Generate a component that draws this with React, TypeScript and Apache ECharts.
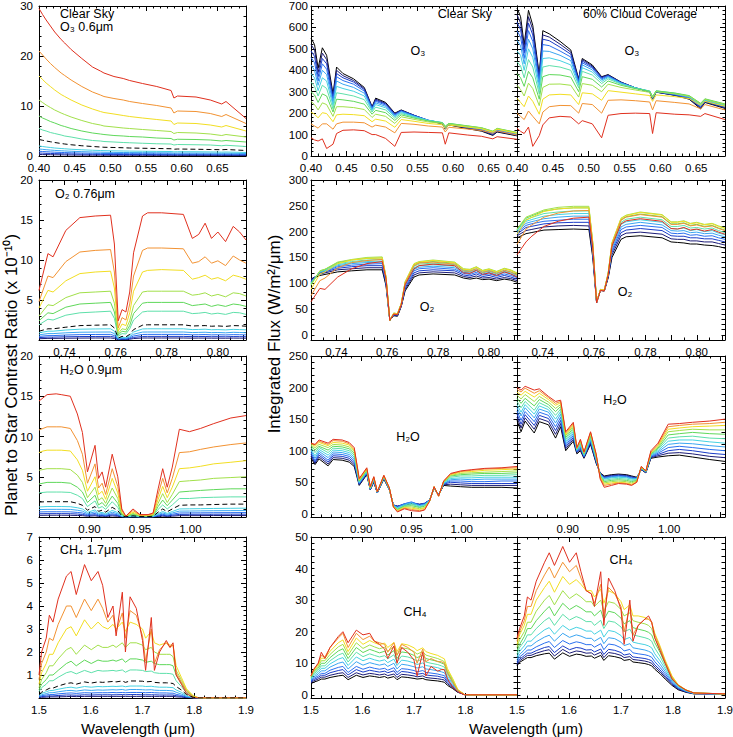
import React, { useEffect, useRef } from "react";
import * as echarts from "echarts";

const FONT = '"Liberation Sans", Arial, Helvetica, sans-serif';

// colours from black (index 0) to red (index 11)
const COLORS = ["#000000", "#1c1c78", "#1a3cc8", "#2a70f0", "#3aa6f2", "#46d2e2", "#5ee0aa", "#5fd85a", "#a2e04a", "#f2de22", "#f29232", "#e0301e"];

// ---------- wavelength grids (micron) ----------
const WL_O3 = [0.400, 0.405, 0.410, 0.416, 0.422, 0.431, 0.436, 0.445, 0.460, 0.475, 0.486, 0.491, 0.505, 0.518, 0.527, 0.545, 0.565, 0.585, 0.589, 0.594, 0.620, 0.640, 0.656, 0.662, 0.690];
const WL_O2 = [0.730, 0.7335, 0.7355, 0.7405, 0.746, 0.752, 0.758, 0.7595, 0.761, 0.7625, 0.764, 0.7655, 0.767, 0.7705, 0.7725, 0.778, 0.7865, 0.790, 0.7925, 0.795, 0.7975, 0.800, 0.803, 0.806, 0.8085, 0.811];
const WL_H2O = [0.850, 0.854, 0.858, 0.867, 0.872, 0.881, 0.888, 0.893, 0.898, 0.9055, 0.909, 0.9125, 0.916, 0.9225, 0.928, 0.932, 0.936, 0.943, 0.950, 0.958, 0.963, 0.968, 0.9725, 0.977, 0.982, 0.989, 0.999, 1.010, 1.023, 1.040, 1.055];
const WL_CH4 = [1.500, 1.505, 1.514, 1.520, 1.527, 1.537, 1.553, 1.562, 1.572, 1.588, 1.601, 1.614, 1.623, 1.633, 1.643, 1.649, 1.661, 1.667, 1.676, 1.688, 1.700, 1.706, 1.717, 1.723, 1.733, 1.746, 1.753, 1.759, 1.765, 1.775, 1.785, 1.798, 1.810, 1.825, 1.840, 1.900];

// ---------- O3 ----------
// contrast ratio lines, navy (1) .. red (11)
const CONTRAST_O3 = [
  [0.3, 0.29, 0.27, 0.26, 0.24, 0.23, 0.22, 0.2, 0.19, 0.17, 0.17, 0.16, 0.16, 0.15, 0.15, 0.15, 0.14, 0.14, 0.13, 0.13, 0.13, 0.13, 0.12, 0.12, 0.11],
  [0.6, 0.57, 0.54, 0.51, 0.48, 0.45, 0.43, 0.41, 0.37, 0.35, 0.33, 0.32, 0.31, 0.3, 0.3, 0.29, 0.28, 0.27, 0.25, 0.26, 0.26, 0.25, 0.23, 0.24, 0.21],
  [0.95, 0.9, 0.86, 0.81, 0.76, 0.71, 0.69, 0.64, 0.59, 0.55, 0.52, 0.51, 0.49, 0.48, 0.47, 0.46, 0.44, 0.43, 0.4, 0.41, 0.41, 0.4, 0.37, 0.38, 0.34],
  [1.4, 1.33, 1.26, 1.19, 1.12, 1.05, 1.01, 0.95, 0.87, 0.8, 0.77, 0.75, 0.72, 0.7, 0.69, 0.67, 0.65, 0.63, 0.58, 0.6, 0.6, 0.58, 0.54, 0.56, 0.5],
  [2, 1.9, 1.8, 1.7, 1.6, 1.5, 1.45, 1.35, 1.25, 1.15, 1.1, 1.07, 1.03, 1, 0.98, 0.95, 0.92, 0.9, 0.83, 0.86, 0.85, 0.82, 0.77, 0.8, 0.7],
  [5.5, 5.2, 5, 4.7, 4.5, 4.2, 4, 3.8, 3.4, 3.1, 3, 2.9, 2.8, 2.7, 2.65, 2.55, 2.45, 2.4, 2.2, 2.3, 2.25, 2.2, 2.05, 2.15, 1.9],
  [8, 7.6, 7.3, 6.9, 6.6, 6.1, 5.9, 5.5, 5, 4.6, 4.4, 4.3, 4.1, 4, 3.9, 3.8, 3.6, 3.5, 3.2, 3.35, 3.3, 3.2, 3, 3.1, 2.8],
  [11.2, 10.7, 10.2, 9.7, 9.2, 8.6, 8.3, 7.8, 7.1, 6.5, 6.2, 6, 5.8, 5.6, 5.5, 5.3, 5.1, 4.9, 4.5, 4.7, 4.6, 4.4, 4.1, 4.3, 3.8],
  [16, 15.3, 14.6, 13.9, 13.2, 12.3, 11.9, 11.2, 10.2, 9.4, 8.9, 8.7, 8.4, 8.1, 7.9, 7.6, 7.3, 7, 6.3, 6.6, 6.5, 6.2, 5.8, 6.1, 5],
  [21, 20.2, 19.4, 18.5, 17.7, 16.6, 16.1, 15.2, 13.9, 12.8, 12.2, 11.9, 11.5, 11.2, 10.9, 10.5, 10.1, 9.6, 8.6, 9, 8.9, 8.5, 7.9, 8.3, 6.5],
  [29.5, 28.3, 27.2, 26, 24.8, 23.3, 22.6, 21.3, 19.5, 17.8, 17, 16.6, 15.9, 15.5, 15.1, 14.5, 13.9, 13.1, 11.6, 12, 11.8, 11.2, 10.4, 10.9, 7.5],
];
const DASHED_O3 = [3.3, 3.15, 3, 2.85, 2.7, 2.5, 2.4, 2.25, 2.05, 1.9, 1.8, 1.75, 1.7, 1.65, 1.6, 1.55, 1.5, 1.45, 1.35, 1.4, 1.35, 1.3, 1.25, 1.3, 1.1];
// flux lines, black (0) .. red (11)
const CLEAR_O3 = [
  [550, 520, 410, 505, 470, 290, 415, 385, 360, 320, 230, 270, 250, 200, 215, 190, 165, 150, 125, 145, 128, 116, 96, 112, 94],
  [520, 495, 390, 480, 450, 280, 400, 375, 352, 315, 228, 265, 246, 198, 213, 190, 166, 151, 127, 146, 130, 118, 99, 114, 96],
  [490, 465, 370, 455, 430, 270, 385, 365, 345, 310, 225, 260, 243, 195, 212, 190, 167, 153, 130, 148, 132, 121, 102, 117, 98],
  [460, 435, 350, 430, 405, 260, 370, 352, 335, 303, 222, 255, 238, 192, 210, 188, 167, 154, 132, 149, 134, 124, 105, 120, 101],
  [425, 400, 330, 400, 380, 248, 350, 335, 320, 293, 218, 248, 232, 188, 207, 186, 167, 155, 134, 150, 136, 127, 108, 122, 103],
  [385, 365, 305, 365, 350, 235, 325, 315, 302, 280, 212, 240, 225, 183, 203, 184, 166, 156, 136, 151, 138, 129, 111, 125, 106],
  [345, 325, 280, 330, 315, 220, 295, 290, 280, 263, 205, 228, 215, 176, 198, 181, 165, 156, 138, 152, 140, 131, 114, 127, 108],
  [300, 285, 250, 290, 280, 205, 265, 262, 255, 242, 195, 213, 202, 166, 192, 177, 163, 155, 139, 152, 141, 132, 116, 129, 110],
  [255, 240, 215, 248, 240, 185, 230, 230, 226, 217, 180, 195, 185, 152, 183, 171, 159, 152, 136, 149, 139, 131, 115, 128, 109],
  [205, 195, 178, 202, 198, 160, 192, 195, 193, 188, 160, 172, 163, 134, 170, 162, 152, 146, 128, 144, 135, 127, 112, 125, 106],
  [150, 140, 130, 150, 150, 125, 150, 158, 158, 155, 135, 144, 135, 108, 152, 148, 140, 135, 112, 134, 126, 119, 106, 117, 98],
  [85, 75, 70, 80, 35, 55, 105, 120, 122, 118, 100, 100, 82, 45, 110, 112, 110, 108, 55, 108, 98, 92, 80, 90, 78],
];
const CLOUD_O3 = [
  [690, 650, 520, 680, 610, 380, 585, 570, 535, 495, 360, 455, 425, 370, 380, 345, 318, 300, 265, 298, 283, 265, 220, 250, 222],
  [660, 620, 500, 650, 590, 370, 565, 555, 522, 485, 355, 450, 420, 368, 378, 344, 318, 300, 267, 298, 284, 267, 225, 252, 225],
  [625, 590, 480, 620, 565, 360, 545, 538, 508, 475, 350, 443, 415, 365, 376, 343, 318, 300, 268, 299, 285, 269, 228, 254, 228],
  [585, 555, 455, 585, 535, 345, 520, 515, 490, 462, 345, 435, 410, 360, 373, 342, 318, 301, 270, 300, 287, 272, 232, 257, 231],
  [540, 515, 430, 545, 500, 330, 490, 488, 470, 445, 338, 425, 402, 355, 370, 340, 318, 302, 272, 301, 289, 275, 236, 260, 234],
  [490, 470, 400, 500, 460, 310, 455, 458, 445, 425, 330, 412, 392, 348, 366, 338, 318, 303, 274, 303, 291, 278, 240, 263, 237],
  [440, 420, 365, 450, 415, 290, 415, 422, 415, 400, 318, 395, 378, 338, 360, 335, 317, 303, 276, 304, 293, 280, 243, 265, 240],
  [385, 365, 325, 395, 365, 265, 370, 380, 378, 368, 300, 370, 358, 322, 350, 330, 314, 302, 277, 304, 294, 282, 246, 267, 243],
  [330, 310, 280, 340, 315, 235, 320, 335, 336, 330, 275, 338, 330, 300, 335, 320, 308, 297, 272, 300, 290, 279, 244, 264, 240],
  [270, 250, 230, 280, 255, 195, 265, 285, 288, 285, 240, 295, 290, 260, 305, 298, 290, 282, 255, 285, 277, 268, 236, 255, 232],
  [200, 185, 170, 210, 185, 150, 205, 230, 236, 235, 200, 245, 240, 200, 260, 262, 258, 252, 215, 258, 250, 243, 220, 240, 215],
  [130, 115, 105, 135, 45, 95, 145, 178, 185, 182, 150, 165, 150, 85, 190, 198, 200, 198, 105, 202, 195, 192, 185, 198, 170],
];

// ---------- O2 ----------
const CONTRAST_O2 = [
  [0.16, 0.2, 0.2, 0.22, 0.24, 0.25, 0.25, 0.2, 0.04, 0.07, 0.06, 0.1, 0.18, 0.25, 0.25, 0.25, 0.25, 0.23, 0.24, 0.24, 0.23, 0.23, 0.22, 0.24, 0.23, 0.23],
  [0.3, 0.36, 0.36, 0.4, 0.43, 0.44, 0.45, 0.36, 0.07, 0.12, 0.1, 0.18, 0.32, 0.44, 0.45, 0.45, 0.45, 0.42, 0.43, 0.44, 0.41, 0.42, 0.4, 0.43, 0.42, 0.41],
  [0.45, 0.55, 0.55, 0.62, 0.67, 0.69, 0.7, 0.55, 0.1, 0.18, 0.15, 0.28, 0.5, 0.69, 0.7, 0.7, 0.7, 0.65, 0.66, 0.68, 0.64, 0.66, 0.63, 0.67, 0.66, 0.64],
  [0.65, 0.8, 0.8, 0.9, 0.97, 0.99, 1.0, 0.8, 0.15, 0.25, 0.22, 0.4, 0.72, 0.99, 1.0, 1.0, 1.0, 0.93, 0.95, 0.97, 0.92, 0.94, 0.9, 0.96, 0.94, 0.91],
  [0.9, 1.1, 1.1, 1.25, 1.35, 1.38, 1.4, 1.1, 0.2, 0.35, 0.3, 0.55, 1.0, 1.38, 1.4, 1.4, 1.4, 1.3, 1.32, 1.35, 1.28, 1.3, 1.26, 1.33, 1.3, 1.27],
  [1.9, 2.6, 2.5, 3.1, 3.4, 3.5, 3.6, 2.7, 0.45, 0.8, 0.75, 1.4, 2.5, 3.5, 3.6, 3.6, 3.6, 3.3, 3.35, 3.45, 3.25, 3.35, 3.2, 3.45, 3.4, 3.2],
  [2.4, 3.4, 3.3, 4.1, 4.5, 4.6, 4.7, 3.5, 0.6, 1.1, 1.0, 1.8, 3.3, 4.6, 4.7, 4.7, 4.7, 4.3, 4.4, 4.5, 4.2, 4.4, 4.2, 4.5, 4.4, 4.2],
  [3, 4.4, 4.3, 5.3, 5.9, 6.0, 6.1, 4.6, 0.8, 1.4, 1.3, 2.4, 4.3, 6.0, 6.1, 6.1, 6.1, 5.6, 5.7, 5.9, 5.5, 5.7, 5.4, 5.9, 5.8, 5.5],
  [4, 6.2, 6.0, 7.4, 8.3, 8.5, 8.6, 6.5, 1.1, 2, 1.8, 3.4, 6.1, 8.5, 8.7, 8.8, 8.7, 7.6, 7.8, 8.1, 7.6, 7.8, 7.4, 8.1, 7.9, 7.6],
  [4.8, 8, 7.8, 9.8, 11, 11.2, 11.3, 8.5, 1.5, 2.8, 2.5, 4.5, 8, 11.2, 11.5, 11.5, 11.4, 9.6, 9.8, 10.4, 9.6, 9.9, 9.3, 10.5, 10, 9.6],
  [6.2, 10.8, 10.4, 13.7, 15.3, 15.5, 15.6, 12, 2.4, 3.8, 3.5, 6, 10.9, 15.5, 15.9, 15.9, 15.7, 12.7, 13.2, 14.6, 12.7, 13.5, 12.3, 14.2, 13.5, 12.5],
];
const DASHED_O2 = [1.1, 1.4, 1.4, 1.6, 1.8, 1.85, 1.9, 1.5, 0.25, 0.45, 0.4, 0.7, 1.3, 1.85, 1.9, 1.9, 1.9, 1.75, 1.78, 1.8, 1.72, 1.76, 1.7, 1.8, 1.78, 1.72];
const CLEAR_O2 = [
  [108, 115, 117, 122, 124, 126, 126, 95, 28, 37, 36, 55, 85, 112, 116, 118, 116, 110, 108, 110, 107, 108, 105, 108, 106, 102],
  [108, 118, 120, 126, 128, 130, 130, 98, 28, 38, 37, 56, 88, 116, 120, 122, 120, 113, 111, 114, 110, 111, 108, 111, 109, 105],
  [105, 120, 122, 129, 132, 134, 134, 101, 28, 39, 38, 57, 91, 120, 124, 126, 124, 116, 114, 118, 113, 115, 111, 115, 112, 108],
  [103, 121, 123, 132, 135, 137, 138, 104, 28, 40, 39, 58, 94, 124, 128, 130, 127, 119, 117, 121, 116, 118, 114, 118, 115, 111],
  [101, 122, 124, 134, 138, 140, 141, 106, 28, 40, 39, 59, 96, 127, 131, 133, 130, 121, 120, 124, 118, 121, 116, 121, 118, 113],
  [100, 123, 125, 136, 140, 142, 143, 108, 28, 41, 40, 60, 98, 130, 134, 136, 133, 123, 122, 126, 120, 123, 118, 123, 120, 115],
  [99, 123, 126, 138, 142, 145, 146, 110, 28, 41, 40, 60, 100, 133, 137, 139, 136, 125, 124, 128, 122, 125, 120, 125, 122, 117],
  [98, 124, 127, 140, 145, 148, 149, 112, 28, 42, 41, 61, 102, 136, 140, 142, 139, 127, 126, 131, 124, 127, 122, 128, 125, 119],
  [96, 124, 127, 141, 146, 150, 151, 113, 28, 42, 41, 61, 103, 138, 142, 145, 141, 128, 127, 132, 125, 128, 123, 129, 126, 120],
  [88, 118, 122, 138, 145, 148, 149, 112, 28, 42, 41, 61, 102, 137, 141, 144, 140, 127, 126, 131, 124, 127, 122, 128, 125, 119],
  [76, 105, 110, 130, 140, 144, 146, 110, 28, 41, 40, 60, 100, 134, 139, 141, 137, 124, 123, 128, 121, 124, 119, 125, 122, 116],
  [64, 90, 88, 112, 128, 138, 142, 108, 28, 40, 39, 58, 97, 128, 134, 137, 134, 120, 119, 125, 117, 120, 115, 122, 118, 112],
];
const CLOUD_O2 = [
  [188, 196, 198, 203, 204, 205, 204, 150, 62, 86, 85, 110, 150, 185, 190, 192, 188, 180, 179, 178, 176, 176, 174, 173, 171, 168],
  [192, 202, 204, 209, 211, 212, 211, 155, 62, 86, 85, 112, 155, 192, 197, 199, 195, 186, 185, 185, 182, 182, 180, 180, 177, 174],
  [195, 208, 210, 215, 217, 218, 218, 160, 63, 87, 86, 114, 160, 198, 203, 206, 202, 192, 191, 191, 188, 188, 186, 186, 183, 180],
  [198, 212, 215, 220, 222, 224, 224, 164, 63, 87, 86, 115, 164, 204, 209, 212, 208, 197, 196, 197, 193, 194, 191, 192, 188, 185],
  [200, 216, 219, 225, 228, 230, 230, 168, 63, 87, 86, 116, 168, 209, 214, 218, 213, 202, 201, 202, 198, 199, 196, 197, 193, 190],
  [202, 220, 223, 230, 233, 235, 235, 171, 63, 87, 86, 117, 171, 214, 219, 223, 218, 206, 205, 207, 202, 204, 200, 202, 197, 194],
  [203, 223, 227, 235, 238, 240, 240, 174, 64, 88, 87, 118, 174, 218, 224, 228, 223, 210, 210, 212, 207, 208, 205, 207, 202, 198],
  [204, 226, 230, 240, 244, 246, 246, 178, 64, 88, 87, 119, 177, 223, 229, 234, 229, 215, 215, 217, 212, 214, 210, 212, 207, 203],
  [205, 228, 232, 242, 247, 249, 249, 180, 64, 88, 87, 120, 179, 226, 232, 238, 233, 219, 219, 221, 216, 218, 214, 216, 211, 207],
  [195, 222, 227, 239, 244, 246, 246, 178, 64, 88, 87, 119, 178, 225, 231, 237, 232, 218, 218, 220, 215, 217, 213, 215, 210, 206],
  [175, 205, 212, 228, 236, 240, 241, 175, 63, 87, 86, 118, 176, 222, 228, 233, 228, 214, 214, 216, 211, 213, 209, 211, 206, 202],
  [155, 180, 190, 210, 220, 226, 228, 168, 62, 86, 85, 116, 172, 215, 221, 225, 220, 206, 205, 208, 203, 205, 201, 204, 199, 195],
];

// ---------- H2O ----------
const CONTRAST_H2O = [
  [0.21, 0.21, 0.22, 0.22, 0.22, 0.21, 0.19, 0.17, 0.1, 0.15, 0.08, 0.1, 0.07, 0.14, 0.09, 0.02, 0, 0.02, 0.01, 0.01, 0.01, 0.07, 0.11, 0.07, 0.11, 0.17, 0.17, 0.17, 0.18, 0.18, 0.18],
  [0.41, 0.41, 0.42, 0.42, 0.42, 0.41, 0.37, 0.32, 0.19, 0.28, 0.16, 0.19, 0.13, 0.27, 0.18, 0.03, 0.01, 0.03, 0.01, 0.01, 0.02, 0.13, 0.22, 0.14, 0.22, 0.32, 0.33, 0.34, 0.34, 0.35, 0.35],
  [0.63, 0.64, 0.65, 0.65, 0.65, 0.64, 0.57, 0.5, 0.29, 0.44, 0.24, 0.29, 0.2, 0.41, 0.27, 0.05, 0.01, 0.05, 0.02, 0.02, 0.03, 0.2, 0.34, 0.22, 0.34, 0.5, 0.51, 0.52, 0.53, 0.54, 0.55],
  [0.92, 0.93, 0.95, 0.95, 0.95, 0.94, 0.84, 0.73, 0.42, 0.64, 0.35, 0.42, 0.3, 0.6, 0.4, 0.08, 0.02, 0.08, 0.03, 0.03, 0.05, 0.3, 0.5, 0.33, 0.5, 0.73, 0.74, 0.76, 0.78, 0.79, 0.8],
  [1.25, 1.27, 1.3, 1.3, 1.3, 1.28, 1.15, 1, 0.58, 0.88, 0.48, 0.58, 0.4, 0.82, 0.55, 0.1, 0.02, 0.1, 0.03, 0.03, 0.07, 0.42, 0.68, 0.45, 0.68, 1, 1.02, 1.04, 1.06, 1.08, 1.1],
  [3, 3.05, 3.1, 3.1, 3.1, 3.05, 2.7, 2.3, 1.3, 2, 1.1, 1.3, 0.95, 1.9, 1.2, 0.25, 0.05, 0.25, 0.08, 0.08, 0.15, 0.95, 1.5, 1, 1.5, 2.3, 2.3, 2.4, 2.45, 2.5, 2.5],
  [4.1, 4.2, 4.3, 4.3, 4.3, 4.2, 3.7, 3.1, 1.8, 2.7, 1.5, 1.8, 1.3, 2.6, 1.7, 0.35, 0.06, 0.35, 0.1, 0.1, 0.2, 1.3, 2.1, 1.4, 2.1, 3.1, 3.2, 3.3, 3.4, 3.5, 3.5],
  [5.8, 5.9, 6, 6, 6, 5.9, 5.2, 4.3, 2.4, 3.7, 2.1, 2.4, 1.7, 3.6, 2.3, 0.45, 0.08, 0.45, 0.15, 0.15, 0.25, 1.7, 2.9, 1.8, 2.8, 4.4, 4.5, 4.6, 4.8, 4.9, 5],
  [8, 8.2, 8.3, 8.3, 8.3, 8.2, 7.1, 5.8, 3.2, 5, 2.8, 3.2, 2.2, 4.8, 3, 0.6, 0.1, 0.6, 0.2, 0.2, 0.3, 2.2, 3.8, 2.4, 3.7, 6, 6.1, 6.3, 6.6, 6.8, 7],
  [10.8, 11, 11.2, 11.2, 11.2, 11, 9.5, 7.8, 4.2, 6.6, 3.6, 4.2, 2.8, 6, 3.8, 0.8, 0.1, 0.8, 0.25, 0.25, 0.4, 2.8, 4.8, 3, 4.8, 8, 8.1, 8.4, 8.7, 9, 9.2],
  [14.4, 14.8, 15.2, 15.3, 15.2, 15, 12.8, 10.5, 5.6, 8.9, 4.8, 5.6, 3.7, 7.8, 5, 1, 0.1, 1, 0.3, 0.3, 0.5, 3.5, 6, 3.7, 6.2, 10.9, 10.6, 11, 11.6, 12.3, 12.6],
];
const DASHED_H2O = [1.85, 1.88, 1.9, 1.9, 1.9, 1.9, 1.7, 1.45, 0.85, 1.3, 0.7, 0.85, 0.6, 1.2, 0.8, 0.15, 0.03, 0.15, 0.05, 0.05, 0.1, 0.6, 1, 0.65, 1, 1.45, 1.5, 1.5, 1.55, 1.6, 1.6];
const CLEAR_H2O = [
  [88, 78, 87, 76, 86, 85, 82, 75, 45, 62, 38, 50, 33, 55, 38, 14, 12, 14, 16, 15, 16, 22, 40, 30, 45, 44, 43, 42, 42, 42, 41],
  [91, 80, 90, 79, 89, 88, 85, 78, 46, 63, 38, 51, 33, 56, 38, 14, 12, 15, 17, 15, 16, 22, 40, 30, 46, 47, 46, 45, 45, 45, 45],
  [94, 82, 93, 82, 92, 91, 88, 81, 47, 64, 39, 52, 33, 57, 39, 14, 12, 16, 18, 15, 17, 22, 41, 30, 47, 50, 49, 48, 48, 48, 48],
  [97, 84, 96, 85, 95, 94, 91, 84, 48, 65, 39, 53, 34, 57, 39, 14, 11, 16, 19, 14, 16, 22, 41, 30, 48, 52, 52, 51, 51, 52, 52],
  [100, 88, 99, 89, 98, 97, 94, 87, 49, 66, 40, 54, 34, 58, 39, 13, 10, 15, 18, 13, 15, 21, 41, 29, 48, 54, 55, 54, 55, 55, 55],
  [102, 92, 102, 93, 101, 100, 97, 90, 50, 67, 40, 55, 34, 58, 40, 13, 9, 14, 17, 12, 14, 21, 42, 29, 49, 56, 57, 57, 58, 58, 58],
  [105, 97, 105, 97, 104, 103, 100, 93, 51, 68, 41, 56, 35, 59, 40, 12, 8, 13, 15, 11, 13, 20, 42, 29, 50, 58, 60, 60, 61, 61, 62],
  [107, 101, 107, 101, 107, 106, 103, 96, 52, 69, 41, 57, 35, 59, 40, 12, 7, 12, 13, 10, 12, 20, 42, 29, 50, 60, 62, 63, 64, 64, 65],
  [109, 104, 110, 105, 110, 109, 106, 99, 53, 70, 42, 57, 35, 60, 40, 12, 6, 11, 11, 8, 10, 20, 43, 28, 51, 61, 64, 65, 66, 67, 68],
  [111, 107, 113, 108, 113, 112, 109, 101, 54, 71, 42, 58, 35, 60, 41, 11, 5, 10, 9, 7, 9, 20, 43, 28, 51, 62, 66, 67, 69, 70, 71],
  [112, 109, 115, 110, 116, 115, 111, 103, 55, 72, 43, 58, 35, 61, 41, 11, 4, 9, 7, 5, 7, 20, 43, 28, 52, 63, 67, 69, 71, 72, 73],
  [112, 110, 117, 112, 118, 117, 113, 105, 56, 73, 43, 59, 35, 61, 41, 11, 3, 8, 5, 4, 6, 20, 43, 28, 52, 64, 68, 70, 72, 73, 75],
];
const CLOUD_H2O = [
  [148, 130, 147, 128, 146, 141, 120, 138, 100, 115, 95, 100, 88, 110, 80, 65, 60, 62, 63, 62, 60, 58, 70, 65, 88, 90, 92, 93, 90, 86, 83],
  [153, 136, 152, 134, 151, 146, 126, 143, 103, 118, 97, 102, 89, 112, 81, 64, 59, 61, 62, 61, 59, 57, 70, 65, 89, 92, 96, 97, 95, 91, 89],
  [158, 142, 157, 140, 156, 151, 132, 148, 106, 121, 98, 104, 90, 114, 83, 64, 58, 60, 61, 60, 58, 57, 71, 66, 90, 94, 100, 102, 100, 96, 94],
  [163, 148, 162, 146, 161, 156, 138, 153, 109, 124, 99, 106, 91, 116, 84, 63, 57, 59, 60, 59, 57, 56, 71, 66, 91, 96, 105, 107, 105, 102, 100],
  [168, 155, 168, 152, 166, 161, 144, 158, 112, 127, 100, 108, 92, 118, 86, 62, 56, 58, 59, 58, 56, 56, 72, 67, 92, 98, 110, 112, 111, 108, 106],
  [173, 161, 173, 158, 171, 165, 150, 162, 115, 130, 101, 110, 93, 120, 87, 62, 55, 57, 58, 57, 55, 55, 72, 67, 93, 100, 115, 117, 117, 114, 112],
  [178, 168, 178, 164, 176, 169, 156, 166, 118, 133, 102, 112, 94, 122, 89, 61, 53, 55, 56, 55, 53, 54, 73, 67, 94, 102, 120, 122, 123, 120, 119],
  [183, 175, 183, 171, 181, 173, 162, 170, 121, 136, 103, 114, 95, 124, 90, 60, 51, 53, 54, 53, 51, 53, 73, 67, 95, 104, 125, 127, 129, 127, 126],
  [188, 182, 189, 178, 186, 177, 167, 173, 124, 139, 104, 115, 96, 126, 92, 59, 49, 51, 52, 51, 49, 52, 74, 68, 96, 106, 130, 132, 134, 133, 133],
  [193, 188, 194, 185, 191, 181, 172, 176, 126, 141, 104, 116, 97, 128, 93, 58, 47, 49, 50, 49, 47, 51, 74, 68, 97, 108, 134, 136, 138, 139, 140],
  [197, 193, 199, 191, 195, 184, 175, 178, 128, 143, 105, 117, 97, 129, 94, 57, 45, 47, 49, 48, 46, 50, 75, 68, 98, 110, 138, 140, 142, 143, 145],
  [200, 196, 202, 196, 198, 186, 178, 180, 130, 145, 105, 118, 98, 130, 95, 55, 42, 45, 48, 47, 45, 50, 75, 68, 100, 112, 142, 143, 145, 147, 150],
];

// ---------- CH4 ----------
const CONTRAST_CH4 = [
  [0.02, 0.03, 0.04, 0.05, 0.05, 0.05, 0.06, 0.07, 0.06, 0.07, 0.07, 0.07, 0.07, 0.07, 0.07, 0.07, 0.07, 0.07, 0.07, 0.07, 0.07, 0.07, 0.07, 0.07, 0.07, 0.07, 0.07, 0.07, 0.05, 0.04, 0.02, 0, 0, 0, 0, 0],
  [0.04, 0.06, 0.08, 0.09, 0.09, 0.11, 0.13, 0.13, 0.12, 0.14, 0.13, 0.14, 0.14, 0.14, 0.14, 0.14, 0.15, 0.14, 0.15, 0.15, 0.14, 0.14, 0.14, 0.14, 0.13, 0.13, 0.13, 0.13, 0.1, 0.07, 0.03, 0.01, 0, 0, 0, 0],
  [0.06, 0.1, 0.13, 0.15, 0.15, 0.18, 0.21, 0.22, 0.2, 0.23, 0.22, 0.23, 0.23, 0.23, 0.24, 0.23, 0.24, 0.23, 0.24, 0.24, 0.24, 0.23, 0.24, 0.23, 0.22, 0.22, 0.21, 0.21, 0.16, 0.11, 0.05, 0.01, 0, 0, 0, 0],
  [0.09, 0.14, 0.19, 0.23, 0.23, 0.27, 0.32, 0.33, 0.3, 0.35, 0.33, 0.35, 0.34, 0.35, 0.36, 0.35, 0.37, 0.34, 0.37, 0.37, 0.36, 0.35, 0.36, 0.34, 0.33, 0.33, 0.32, 0.31, 0.25, 0.17, 0.07, 0.01, 0, 0, 0, 0],
  [0.12, 0.2, 0.27, 0.32, 0.33, 0.38, 0.45, 0.47, 0.43, 0.5, 0.47, 0.5, 0.49, 0.5, 0.51, 0.5, 0.52, 0.49, 0.52, 0.52, 0.52, 0.5, 0.51, 0.49, 0.47, 0.47, 0.46, 0.45, 0.35, 0.25, 0.1, 0.02, 0, 0, 0, 0],
  [0.28, 0.45, 0.6, 0.75, 0.75, 0.9, 1.1, 1.15, 1.05, 1.2, 1.1, 1.2, 1.17, 1.18, 1.2, 1.17, 1.22, 1.12, 1.22, 1.22, 1.2, 1.15, 1.17, 1.1, 1.07, 1.07, 1.06, 1.03, 0.75, 0.5, 0.22, 0.05, 0, 0, 0, 0],
  [0.35, 0.6, 0.8, 1.0, 1.0, 1.2, 1.5, 1.6, 1.4, 1.65, 1.5, 1.65, 1.6, 1.6, 1.65, 1.6, 1.7, 1.55, 1.7, 1.7, 1.65, 1.55, 1.6, 1.5, 1.45, 1.45, 1.45, 1.4, 1.0, 0.65, 0.3, 0.06, 0, 0, 0, 0],
  [0.45, 0.8, 1.1, 1.4, 1.4, 1.7, 2.1, 2.2, 1.9, 2.3, 2.1, 2.3, 2.2, 2.2, 2.3, 2.2, 2.4, 2.2, 2.4, 2.4, 2.3, 2.1, 2.2, 2.0, 1.9, 1.9, 1.9, 1.8, 1.2, 0.8, 0.35, 0.08, 0, 0, 0, 0],
  [0.6, 1.1, 1.5, 1.9, 1.9, 2.4, 3.0, 3.1, 2.7, 3.4, 3.0, 3.3, 3.1, 3.0, 3.2, 3.0, 3.3, 2.9, 3.3, 3.2, 3.0, 2.6, 2.9, 2.4, 2.3, 2.4, 2.3, 2.3, 1.4, 0.9, 0.4, 0.1, 0, 0, 0, 0],
  [0.8, 1.5, 2.0, 2.6, 2.5, 3.2, 4.0, 4.0, 3.5, 4.3, 3.8, 4.3, 3.9, 3.3, 3.6, 2.9, 3.7, 2.6, 3.8, 3.6, 2.7, 1.6, 3.0, 1.5, 2.1, 2.4, 2.2, 2.3, 1.1, 0.7, 0.3, 0.05, 0, 0, 0, 0],
  [1.0, 2.0, 2.6, 3.6, 3.3, 4.3, 5.3, 5.5, 4.5, 5.8, 5.1, 5.5, 4.9, 3.5, 4.0, 2.7, 4.6, 2.0, 4.4, 3.9, 2.5, 1.2, 3.5, 1.2, 2.0, 2.5, 2.2, 2.4, 1.0, 0.6, 0.2, 0, 0, 0, 0, 0],
];
const DASHED_CH4 = [0.15, 0.25, 0.35, 0.42, 0.43, 0.52, 0.63, 0.66, 0.6, 0.7, 0.65, 0.7, 0.68, 0.7, 0.72, 0.7, 0.74, 0.68, 0.74, 0.74, 0.73, 0.7, 0.72, 0.68, 0.66, 0.66, 0.65, 0.63, 0.5, 0.35, 0.15, 0.03, 0, 0, 0, 0];
const CLEAR_CH4 = [
  [3.5, 4, 4.5, 5, 5, 5.5, 6, 6.2, 4.8, 6.2, 5.5, 6, 5.8, 5.5, 5.8, 5.3, 5.8, 4.8, 5.7, 5.5, 5.2, 5, 5.2, 4.8, 4.6, 4.4, 4.2, 4, 3, 2, 0.8, 0.1, 0, 0, 0, 0],
  [3.8, 4.4, 5, 5.6, 5.6, 6.2, 6.8, 7, 5.5, 7, 6.3, 6.8, 6.6, 6.3, 6.6, 6.1, 6.6, 5.5, 6.5, 6.3, 6, 5.7, 6, 5.5, 5.3, 5.1, 4.9, 4.7, 3.5, 2.3, 0.9, 0.1, 0, 0, 0, 0],
  [4.1, 4.8, 5.5, 6.2, 6.2, 7, 7.7, 8, 6.3, 8, 7.2, 7.8, 7.5, 7.2, 7.5, 7, 7.6, 6.3, 7.4, 7.2, 6.8, 6.5, 6.8, 6.3, 6.1, 5.9, 5.6, 5.4, 4, 2.6, 1, 0.1, 0, 0, 0, 0],
  [4.4, 5.2, 6, 6.8, 6.8, 7.8, 8.7, 9, 7.1, 9, 8.1, 8.8, 8.4, 8.1, 8.4, 7.8, 8.6, 7.1, 8.3, 8.1, 7.7, 7.3, 7.7, 7.1, 6.9, 6.6, 6.3, 6.1, 4.5, 2.9, 1.1, 0.1, 0, 0, 0, 0],
  [4.7, 5.6, 6.6, 7.6, 7.6, 8.8, 10, 10.4, 8.2, 10.5, 9.4, 10.2, 9.8, 9.4, 9.8, 9, 10, 8.2, 9.7, 9.4, 8.9, 8.5, 8.9, 8.2, 8, 7.6, 7.3, 7, 5.2, 3.3, 1.2, 0.1, 0, 0, 0, 0],
  [5, 6.1, 7.2, 8.4, 8.4, 9.8, 11.3, 11.8, 9.3, 12, 10.8, 11.6, 11.1, 10.7, 11.1, 10.2, 11.3, 9.3, 11, 10.7, 10.1, 9.6, 10.1, 9.3, 9, 8.6, 8.2, 7.9, 5.8, 3.7, 1.3, 0.1, 0, 0, 0, 0],
  [5.3, 6.6, 7.8, 9.2, 9.2, 10.8, 12.6, 13.2, 10.4, 13.5, 12.1, 13, 12.5, 12, 12.4, 11.4, 12.7, 10.4, 12.3, 12, 11.3, 10.7, 11.3, 10.4, 10, 9.6, 9.2, 8.8, 6.5, 4.1, 1.4, 0.1, 0, 0, 0, 0],
  [5.6, 7, 8.4, 10, 10, 11.8, 13.9, 14.6, 11.5, 15, 13.4, 14.4, 13.9, 13.3, 13.8, 12.6, 14, 11.5, 13.6, 13.3, 12.5, 11.8, 12.5, 11.5, 11.1, 10.6, 10.1, 9.7, 7.1, 4.5, 1.5, 0.1, 0, 0, 0, 0],
  [5.9, 7.4, 9, 10.8, 10.8, 12.8, 15.2, 16, 12.6, 16.5, 14.7, 15.8, 15.2, 14.6, 15.1, 13.8, 15.3, 12.6, 14.9, 14.6, 13.7, 12.9, 13.7, 12.6, 12.1, 11.5, 11, 10.5, 7.7, 4.9, 1.6, 0.1, 0, 0, 0, 0],
  [6, 7.7, 9.5, 11.6, 11.6, 13.8, 16.5, 17.4, 13.7, 18, 16, 17.2, 16.5, 15.9, 16.4, 15, 16.6, 13.7, 16.2, 15.8, 14.9, 14, 14.9, 13.7, 13.1, 12.5, 11.9, 11.4, 8.3, 5.2, 1.7, 0.1, 0, 0, 0, 0],
  [6, 8, 10, 12.5, 12, 15, 18, 19.5, 15, 19.5, 17.5, 18.6, 17, 16.5, 16, 13.5, 16.5, 12.5, 16, 15, 13.5, 10, 14.5, 10.5, 11.5, 10.5, 10.5, 10, 7, 4, 1.4, 0.1, 0, 0, 0, 0],
  [6, 8, 10, 13.5, 11.5, 15, 18.5, 20, 16.5, 20.5, 19, 19.5, 17, 16, 14.5, 11.5, 15.5, 10, 15, 13.5, 11, 6, 13.5, 6, 9, 7.5, 8, 8, 5, 2.5, 1, 0, 0, 0, 0, 0],
];
const CLOUD_CH4 = [
  [9.2, 10.3, 11.2, 11.8, 11.8, 12.4, 13, 13.2, 11.3, 13.3, 12.2, 12.9, 12.7, 12.2, 12.3, 11.6, 12.5, 10.9, 12.4, 12.1, 11.6, 10.9, 11.2, 10.4, 10.2, 9.9, 9.6, 9.2, 8.1, 6.7, 5, 3, 1.6, 0.8, 0.3, 0.3],
  [9.6, 10.8, 11.8, 12.5, 12.5, 13.2, 14, 14.3, 12.3, 14.4, 13.2, 13.9, 13.7, 13.2, 13.3, 12.6, 13.5, 11.8, 13.4, 13.1, 12.5, 11.8, 12.1, 11.2, 11, 10.7, 10.4, 10, 8.8, 7.3, 5.5, 3.3, 1.8, 0.9, 0.4, 0.3],
  [10, 11.3, 12.4, 13.2, 13.2, 14, 15, 15.3, 13.4, 15.5, 14.3, 15, 14.8, 14.2, 14.3, 13.6, 14.5, 12.8, 14.4, 14.1, 13.4, 12.6, 13, 12, 11.8, 11.5, 11.2, 10.8, 9.5, 7.9, 6, 3.6, 2, 1, 0.4, 0.3],
  [10.5, 12, 13.2, 14.2, 14.2, 15.2, 16.4, 16.9, 15, 17.2, 16.1, 16.8, 16.5, 15.9, 15.9, 15.1, 16.2, 14.3, 16.1, 15.8, 14.9, 13.9, 14.4, 13.3, 13, 12.7, 12.4, 11.9, 10.5, 8.7, 6.7, 3.9, 2.2, 1.1, 0.4, 0.3],
  [11.2, 12.8, 14.2, 15.5, 15.5, 16.8, 18.3, 18.9, 17, 19.5, 18.2, 19, 18.6, 17.9, 17.9, 17, 18.2, 16.2, 18.1, 17.8, 16.7, 15.6, 16.2, 14.9, 14.6, 14.2, 13.8, 13.3, 11.7, 9.7, 7.4, 4.3, 2.4, 1.2, 0.5, 0.3],
  [12, 13.8, 15.5, 17, 17, 18.6, 20.6, 21.3, 19.2, 22, 20.5, 21.4, 21, 20.2, 20.2, 19.2, 20.5, 18.3, 20.4, 20, 18.8, 17.5, 18.2, 16.7, 16.3, 15.9, 15.5, 14.9, 13, 10.8, 8.2, 4.7, 2.6, 1.3, 0.5, 0.3],
  [13, 15, 17, 19, 19, 21, 23.5, 24.5, 22, 25.5, 23.7, 24.8, 24.2, 23.2, 23.2, 22, 23.6, 21, 23.4, 23, 21.5, 20, 20.8, 19, 18.6, 18.1, 17.7, 17, 14.8, 12.2, 9, 5.1, 2.8, 1.4, 0.5, 0.3],
  [14, 16, 18.5, 21, 21, 23.5, 26.5, 28, 25, 29, 27, 28.3, 27.5, 26.3, 26.3, 25, 26.8, 23.8, 26.5, 26, 24.3, 22.5, 23.5, 21.3, 20.8, 20.3, 19.8, 19, 16.5, 13.5, 9.8, 5.5, 3, 1.5, 0.6, 0.3],
  [15, 17.5, 20, 23, 23, 26.5, 30, 31.5, 28.5, 33, 30.5, 32, 31, 29.5, 29.5, 28, 30, 26.5, 29.5, 29, 27, 25, 26, 23.5, 23, 22.5, 22, 21, 18, 14.5, 10.5, 5.8, 3.1, 1.5, 0.6, 0.3],
  [16, 19, 22, 25.5, 25.5, 30, 34, 36, 32.5, 37.5, 35, 36.5, 35, 33, 33, 31, 33.5, 29, 33, 32, 29.5, 27, 28.5, 25, 25, 24.5, 24, 23, 19.5, 15.5, 11, 6, 3.2, 1.6, 0.6, 0.3],
  [17, 20, 23.5, 28, 28, 33, 38, 40.5, 37, 42, 39, 41, 37, 33, 32, 29, 35, 25, 34, 32, 28, 20, 28, 19, 22, 24, 24, 23, 19, 15, 10.5, 5.5, 3, 1.5, 0.6, 0.3],
  [18, 21, 25, 31, 30, 36, 42, 45, 41, 47, 42, 45, 39, 33, 32, 28, 39, 22, 37, 33, 27, 16, 30, 17, 22, 24, 25, 23, 18, 14, 10, 5, 3, 1.5, 0.6, 0.3],
];

// ---------- axes ----------
const X_O3_TICKS = [0.4, 0.45, 0.5, 0.55, 0.6, 0.65];
const X_O2_TICKS = [0.74, 0.76, 0.78, 0.8];
const X_H2O_TICKS = [0.9, 0.95, 1.0];
const X_CH4_TICKS = [1.5, 1.6, 1.7, 1.8, 1.9];
const X_CH4_TICKS_MID = [1.5, 1.6, 1.7, 1.8];

const X_SPECS = [
  { min: 0.4, max: 0.69, interval: 0.05, minor: 5, dec: 2, labels: [X_O3_TICKS, X_O3_TICKS, X_O3_TICKS] },
  { min: 0.73, max: 0.811, interval: 0.01, minor: 2, dec: 2, labels: [X_O2_TICKS, X_O2_TICKS, X_O2_TICKS] },
  { min: 0.85, max: 1.055, interval: 0.05, minor: 5, dec: 2, labels: [X_H2O_TICKS, X_H2O_TICKS, X_H2O_TICKS] },
  { min: 1.5, max: 1.9, interval: 0.1, minor: 5, dec: 1, labels: [X_CH4_TICKS, X_CH4_TICKS_MID, X_CH4_TICKS] },
];

const seq = (a: number, b: number, s: number) => {
  const out: number[] = [];
  for (let v = a; v <= b + 1e-9; v += s) out.push(Math.round(v * 1000) / 1000);
  return out;
};

const Y_CONTRAST = [
  { min: 0, max: 30, interval: 10, minor: 5, labels: [0, 10, 20, 30] },
  { min: 0, max: 20, interval: 5, minor: 5, labels: [5, 10, 15, 20] },
  { min: 0, max: 20, interval: 5, minor: 5, labels: [5, 10, 15, 20] },
  { min: 0, max: 7, interval: 1, minor: 5, labels: [1, 2, 3, 4, 5, 6, 7] },
];
const Y_FLUX: any[] = [
  { min: 0, max: 700, interval: 100, minor: 5, labels: seq(0, 700, 100) },
  { min: -10, max: 300, ticks: seq(0, 300, 10), labels: seq(0, 300, 50) },
  { min: -5, max: 250, ticks: seq(0, 250, 10), labels: seq(0, 250, 50) },
  { min: -1, max: 50, ticks: seq(0, 50, 2), labels: seq(0, 50, 10) },
];

const COLS = [
  { left: 39, width: 207 },
  { left: 311, width: 206 },
  { left: 517, width: 208 },
];
const ROWS = [
  { top: 6, height: 150 },
  { top: 180, height: 160 },
  { top: 356, height: 161 },
  { top: 537, height: 161 },
];

const DATA_ROWS = [
  { wl: WL_O3, contrast: CONTRAST_O3, dashed: DASHED_O3, clear: CLEAR_O3, cloud: CLOUD_O3 },
  { wl: WL_O2, contrast: CONTRAST_O2, dashed: DASHED_O2, clear: CLEAR_O2, cloud: CLOUD_O2 },
  { wl: WL_H2O, contrast: CONTRAST_H2O, dashed: DASHED_H2O, clear: CLEAR_H2O, cloud: CLOUD_H2O },
  { wl: WL_CH4, contrast: CONTRAST_CH4, dashed: DASHED_CH4, clear: CLEAR_CH4, cloud: CLOUD_CH4 },
];

const near = (list: number[], v: number) => list.some((l) => Math.abs(l - v) < 1e-6);

function makeAxis(spec: any, gridIndex: number, position: string, labels: number[] | null, dec: number | null, margin: number) {
  const ax: any = {
    type: "value",
    gridIndex,
    position,
    min: spec.min,
    max: spec.max,
    splitLine: { show: false },
    axisLine: { show: true, onZero: false, lineStyle: { color: "#000", width: 1 } },
    axisTick: { show: true, inside: true, length: 5, lineStyle: { color: "#000", width: 1 } },
    minorTick: { show: true, splitNumber: spec.minor || 5, length: 2.5, lineStyle: { color: "#000", width: 1 } },
    axisLabel: labels
      ? {
          show: true,
          showMinLabel: true,
          showMaxLabel: true,
          margin,
          fontSize: 11.5,
          lineHeight: 12,
          fontFamily: FONT,
          color: "#000",
          formatter: (v: number) => (near(labels, v) ? (dec != null ? v.toFixed(dec) : String(Math.round(v))) : ""),
        }
      : { show: false },
  };
  if (spec.ticks) {
    ax.axisTick.customValues = spec.ticks;
    ax.axisTick.length = 3.5;
    ax.minorTick.show = false;
    if (labels) ax.axisLabel.customValues = labels;
  } else {
    ax.interval = spec.interval;
  }
  return ax;
}

function buildOption() {
  const grid: any[] = [];
  const xAxis: any[] = [];
  const yAxis: any[] = [];
  const series: any[] = [];
  for (let r = 0; r < 4; r++) {
    const d = DATA_ROWS[r];
    for (let c = 0; c < 3; c++) {
      const g = r * 3 + c;
      grid.push({ left: COLS[c].left, top: ROWS[r].top, width: COLS[c].width, height: ROWS[r].height, containLabel: false, outerBoundsMode: "none" });
      const xs = X_SPECS[r];
      xAxis.push(makeAxis(xs, g, "bottom", xs.labels[c], xs.dec, 6));
      xAxis.push(makeAxis(xs, g, "top", null, null, 0));
      const ys = c === 0 ? Y_CONTRAST[r] : Y_FLUX[r];
      yAxis.push(makeAxis(ys, g, "left", c === 1 || c === 0 ? ys.labels : null, null, c === 0 ? 6 : 3));
      yAxis.push(makeAxis(ys, g, "right", null, null, 0));
      const axisIdx = g * 2;
      const addLine = (vals: number[], color: string, dashed: boolean) => {
        series.push({
          type: "line",
          xAxisIndex: axisIdx,
          yAxisIndex: axisIdx,
          data: d.wl.map((x, i) => [x, vals[i]]),
          showSymbol: false,
          symbol: "none",
          silent: true,
          clip: true,
          lineStyle: { width: 1, color, type: dashed ? [5, 3] : "solid" },
          itemStyle: { color },
        });
      };
      if (c === 0) {
        d.contrast.forEach((vals, i) => addLine(vals, COLORS[i + 1], false));
        addLine(d.dashed, "#000", true);
      } else {
        const set = c === 1 ? d.clear : d.cloud;
        set.forEach((vals, i) => addLine(vals, COLORS[i], false));
      }
    }
  }

  const t = (x: number, y: number, text: string, align: string, size = 12.5) => ({
    type: "text",
    x,
    y,
    silent: true,
    style: { text, fill: "#000", font: `${size}px ${FONT}`, textAlign: align, textVerticalAlign: "middle", align, verticalAlign: "middle" },
  });
  const vt = (x: number, y: number, text: string, size: number) => ({
    type: "text",
    x,
    y,
    rotation: Math.PI / 2,
    silent: true,
    style: { text, fill: "#000", font: `${size}px ${FONT}`, textAlign: "center", textVerticalAlign: "middle", align: "center", verticalAlign: "middle" },
  });

  const graphic = [
    t(60, 14, "Clear Sky", "left", 12.5),
    t(60, 27, "O\u2083 0.6\u03bcm", "left", 12.5),
    t(492, 14, "Clear Sky", "right", 12.5),
    t(418, 51, "O\u2083", "center", 12.5),
    t(640, 14, "60% Cloud Coverage", "center", 12),
    t(632, 51, "O\u2083", "center", 12.5),
    t(55, 194, "O\u2082 0.76\u03bcm", "left", 12.5),
    t(427, 307, "O\u2082", "center", 12.5),
    t(625, 292, "O\u2082", "center", 12.5),
    t(60, 370, "H\u2082O 0.9\u03bcm", "left", 12.5),
    t(408, 437, "H\u2082O", "center", 12.5),
    t(615, 400, "H\u2082O", "center", 12.5),
    t(60, 550, "CH\u2084 1.7\u03bcm", "left", 12.5),
    t(415, 612, "CH\u2084", "center", 12.5),
    t(621, 560, "CH\u2084", "center", 12.5),
    t(138, 728, "Wavelength (\u03bcm)", "center", 15),
    t(526, 728, "Wavelength (\u03bcm)", "center", 15),
    vt(11, 375, "Planet to Star Contrast Ratio (x 10\u207b\u00b9\u2070)", 17),
    vt(274, 334, "Integrated Flux (W/m\u00b2/\u03bcm)", 17),
  ];

  return { animation: false, backgroundColor: "#fff", grid, xAxis, yAxis, series, graphic };
}

export default function App() {
  const ref = useRef<HTMLDivElement>(null);
  useEffect(() => {
    if (!ref.current) return;
    const chart = echarts.init(ref.current, null, { renderer: "svg", width: 733, height: 737 });
    chart.setOption(buildOption() as any);
    return () => chart.dispose();
  }, []);
  return <div ref={ref} style={{ position: "absolute", left: 0, top: 0, width: 733, height: 737, background: "#fff" }} />;
}
